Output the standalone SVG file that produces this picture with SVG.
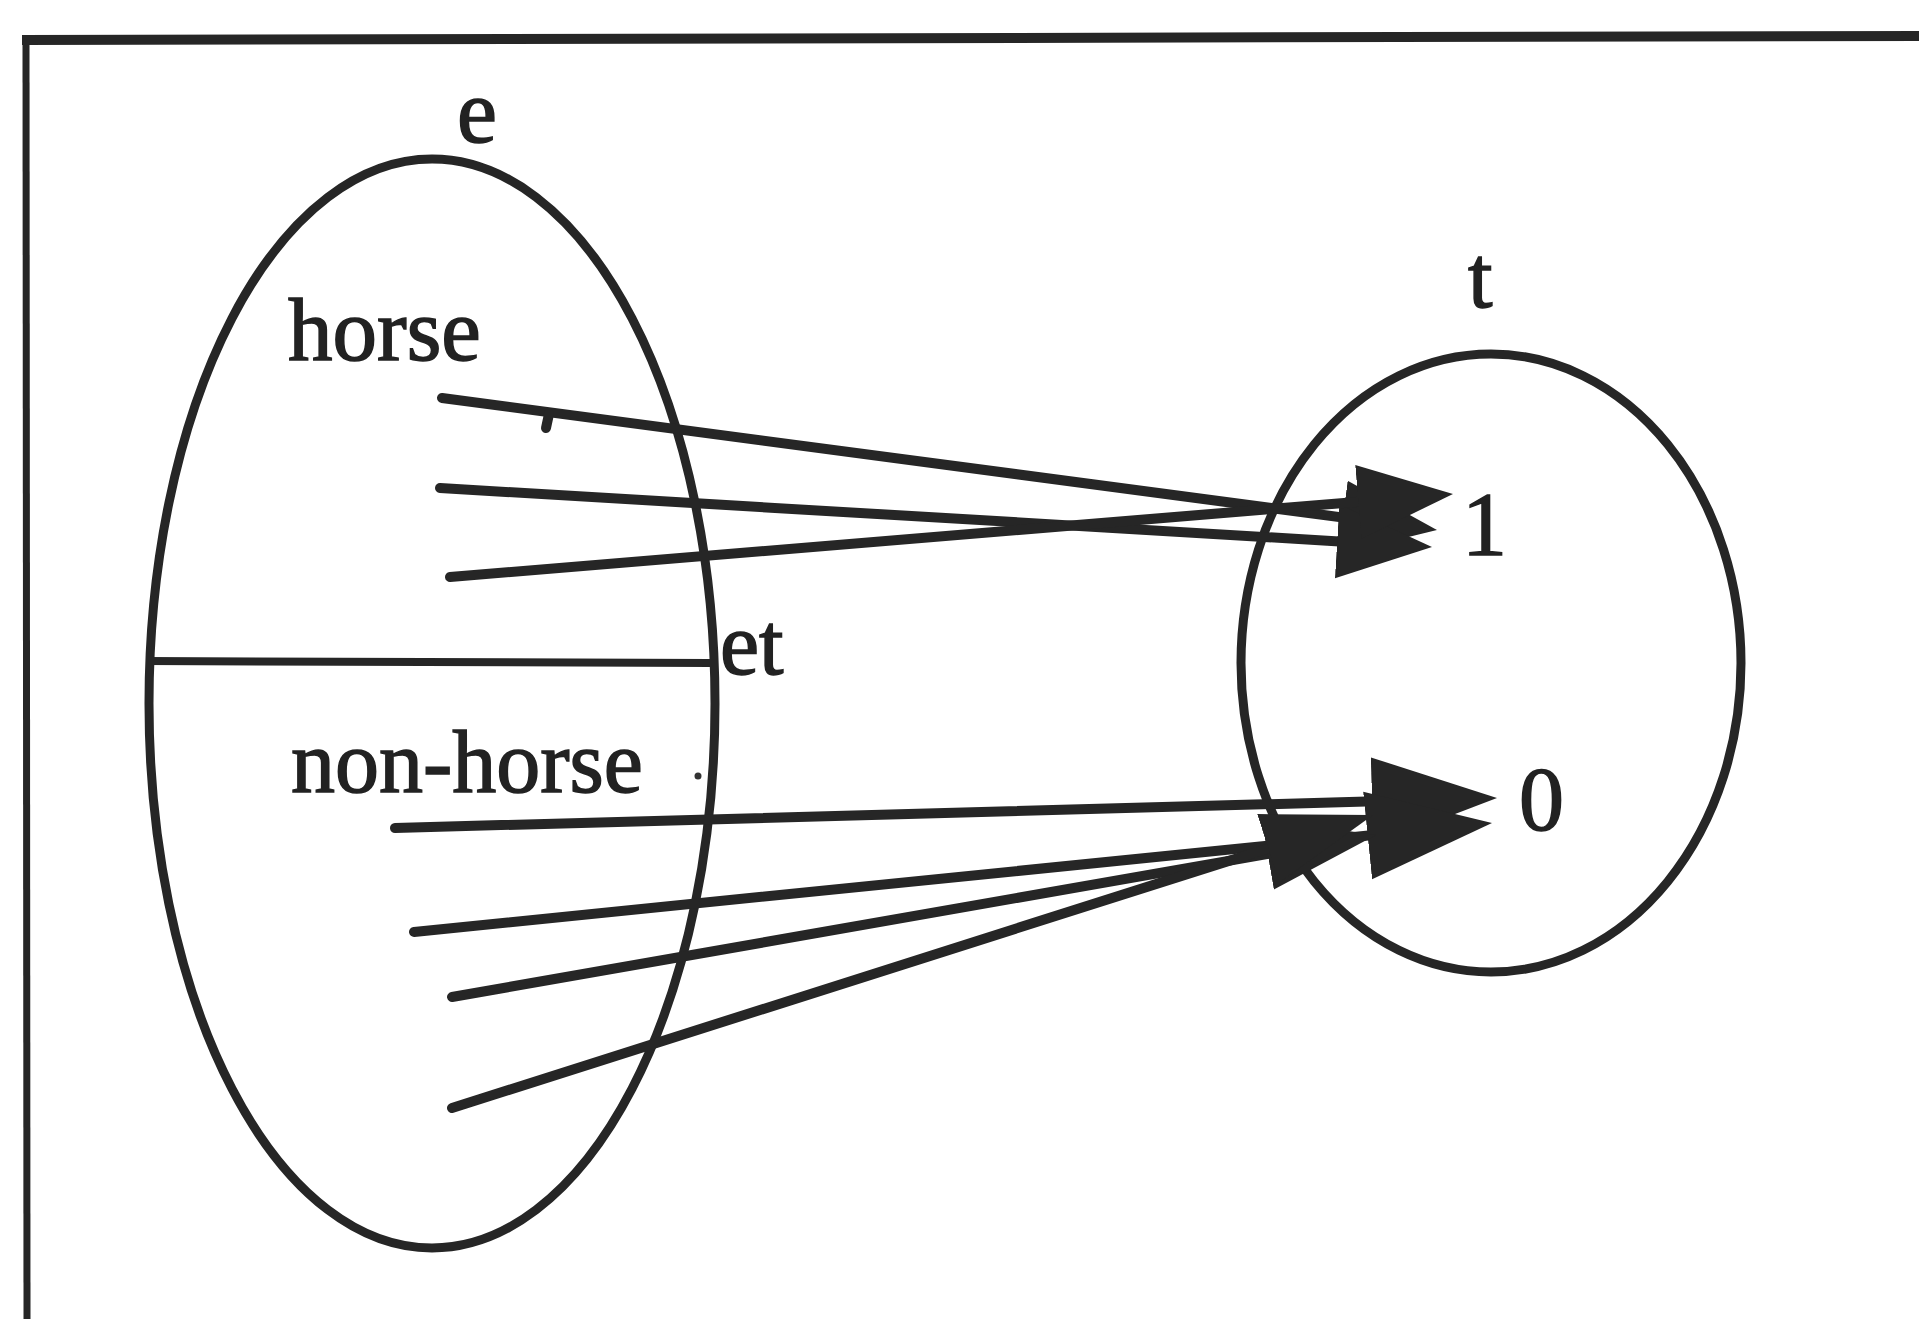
<svg xmlns="http://www.w3.org/2000/svg" width="1919" height="1319" viewBox="0 0 1919 1319">
  <defs>
    <style>
      .ln { stroke: #262626; fill: none; }
      .txt { font-family: "Liberation Serif", "Times New Roman", serif; fill: #222; stroke: #222; stroke-width: 1.5; }
      .conn { stroke: #262626; stroke-width: 10; fill: none; stroke-linecap: round; }
    </style>
    <marker id="head" markerUnits="userSpaceOnUse" viewBox="0 -40 95 80" refX="35" refY="0" markerWidth="95" markerHeight="80" orient="auto">
      <path d="M0,-37 L95,0 L0,37 Z" fill="#262626"/>
    </marker>
    <marker id="headBig" markerUnits="userSpaceOnUse" viewBox="0 -46 125 92" refX="65" refY="0" markerWidth="125" markerHeight="92" orient="auto">
      <path d="M0,-44 L125,0 L0,44 Z" fill="#262626"/>
    </marker>
    <marker id="headSmall" markerUnits="userSpaceOnUse" viewBox="0 -38 110 76" refX="50" refY="0" markerWidth="110" markerHeight="76" orient="auto">
      <path d="M0,-36 L110,0 L0,36 Z" fill="#262626"/>
    </marker>
  </defs>
  <rect x="0" y="0" width="1919" height="1319" fill="#ffffff"/>

  <g id="frame">
    <line class="ln" x1="22" y1="40" x2="1919" y2="36" stroke-width="10"/>
    <line class="ln" x1="26" y1="38" x2="27" y2="1319" stroke-width="7"/>
  </g>

  <g id="node-e">
    <ellipse class="ln" cx="432" cy="703.5" rx="283" ry="544.5" stroke-width="9"/>
    <line class="ln" x1="146" y1="661" x2="710" y2="663" stroke-width="8"/>
    <text class="txt" x="457" y="142" font-size="90">e</text>
    <text class="txt" x="288" y="360" font-size="89">horse</text>
    <text class="txt" x="720" y="674" font-size="88">et</text>
    <text class="txt" x="291" y="792" font-size="88">non-horse</text>
    <circle cx="698" cy="776" r="3.5" fill="#333"/>
  </g>

  <g id="node-t">
    <ellipse class="ln" cx="1491" cy="663" rx="250" ry="309" stroke-width="9"/>
    <text class="txt" x="1468" y="307" font-size="88">t</text>
    <text class="txt" x="1462" y="555" font-size="90">1</text>
    <text class="txt" x="1519" y="830" font-size="90">0</text>
  </g>

  <g id="connectors">
    <!-- horse -> 1 -->
    <line class="conn" x1="442" y1="398" x2="1377.5" y2="522.1" marker-end="url(#head)"/>
    <line class="conn" x1="440" y1="488" x2="1372.1" y2="543.4" marker-end="url(#head)"/>
    <line class="conn" x1="450" y1="577" x2="1393.2" y2="498.9" marker-end="url(#head)"/>
    <path class="conn" d="M549,414 L546,428"/>
    <!-- non-horse -> 0 -->
    <line class="conn" x1="395" y1="828" x2="1437.0" y2="799.6" marker-end="url(#headBig)"/>
    <line class="conn" x1="414" y1="932" x2="1432.3" y2="829.0" marker-end="url(#headBig)"/>
    <line class="conn" x1="452" y1="997" x2="1316.9" y2="845.4" marker-end="url(#headSmall)"/>
    <line class="conn" x1="452" y1="1108" x2="1315.8" y2="833.2" marker-end="url(#headSmall)"/>
  </g>
</svg>
